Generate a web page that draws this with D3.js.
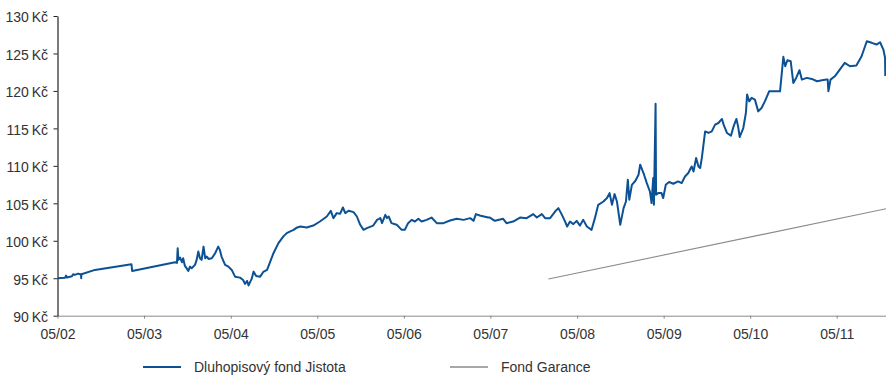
<!DOCTYPE html>
<html>
<head>
<meta charset="utf-8">
<script src="https://cdn.jsdelivr.net/npm/d3@7"></script>
<style>
  body { margin: 0; background: #fff; }
  text { font-family: "Liberation Sans", Arial, sans-serif; fill: #333; }
</style>
</head>
<body>
<div id="chart"></div>
<script>
// Dluhopisový fond Jistota
const jistotaDates = [
  "2002-05-01","2002-06-02","2002-06-06","2002-06-10","2002-07-01","2002-07-06","2002-07-13","2002-07-27","2002-08-04","2002-08-08",
  "2002-08-09","2002-08-10","2002-10-06","2003-03-09","2003-03-12","2003-09-09","2003-09-17","2003-09-20","2003-09-23","2003-09-30",
  "2003-10-08","2003-10-13","2003-10-20","2003-11-04","2003-11-11","2003-11-18","2003-12-02","2003-12-09","2003-12-16","2003-12-23",
  "2003-12-30","2004-01-07","2004-01-14","2004-01-21","2004-01-28","2004-02-11","2004-02-25","2004-03-09","2004-03-16","2004-03-23",
  "2004-04-07","2004-04-21","2004-05-05","2004-05-19","2004-06-09","2004-06-22","2004-06-30","2004-07-09","2004-07-15","2004-07-28",
  "2004-08-05","2004-08-16","2004-09-02","2004-09-15","2004-10-01","2004-10-14","2004-10-28","2004-11-18","2004-12-09","2004-12-23",
  "2005-01-07","2005-01-21","2005-02-02","2005-02-19","2005-03-17","2005-04-14","2005-05-12","2005-06-10","2005-06-27","2005-07-08",
  "2005-07-22","2005-08-05","2005-08-17","2005-08-27","2005-09-10","2005-10-01","2005-10-15","2005-10-29","2005-11-12","2005-11-26",
  "2005-12-23","2006-01-08","2006-01-22","2006-01-29","2006-02-12","2006-02-19","2006-02-26","2006-03-10","2006-04-01","2006-04-22",
  "2006-05-05","2006-05-19","2006-06-03","2006-06-17","2006-07-01","2006-07-15","2006-08-05","2006-08-26","2006-09-17","2006-10-15",
  "2006-11-12","2006-12-10","2007-01-08","2007-02-05","2007-02-19","2007-03-01","2007-03-17","2007-04-22","2007-04-29","2007-05-20",
  "2007-06-24","2007-07-08","2007-08-05","2007-09-03","2007-10-01","2007-10-29","2007-11-13","2007-12-04","2007-12-18","2008-01-08",
  "2008-01-29","2008-02-12","2008-02-27","2008-03-10","2008-03-20","2008-04-01","2008-04-15","2008-04-29","2008-05-13","2008-05-27",
  "2008-06-11","2008-07-01","2008-07-15","2008-07-29","2008-08-20","2008-09-04","2008-09-15","2008-09-25","2008-10-06","2008-10-16",
  "2008-10-30","2008-11-13","2008-11-23","2008-12-01","2008-12-07","2008-12-18","2009-01-02","2009-01-15","2009-01-22","2009-02-05",
  "2009-02-19","2009-03-04","2009-03-11","2009-03-18","2009-03-21","2009-03-28","2009-03-30","2009-04-08","2009-04-22","2009-04-29",
  "2009-05-10","2009-05-24","2009-06-11","2009-07-01","2009-07-16","2009-07-30","2009-08-13","2009-08-27","2009-09-04","2009-09-15",
  "2009-09-25","2009-10-02","2009-10-09","2009-10-23","2009-11-06","2009-11-20","2009-12-04","2009-12-18","2010-01-02","2010-01-09",
  "2010-01-23","2010-02-09","2010-02-20","2010-03-04","2010-03-11","2010-03-18","2010-04-02","2010-04-13","2010-04-18","2010-04-27",
  "2010-05-07","2010-05-21","2010-06-04","2010-06-18","2010-07-02","2010-07-20","2010-09-04","2010-09-18","2010-09-26","2010-10-05",
  "2010-10-19","2010-10-30","2010-11-11","2010-11-25","2010-12-05","2010-12-26","2011-01-16","2011-02-07","2011-02-28","2011-03-19",
  "2011-03-24","2011-03-27","2011-04-05","2011-04-23","2011-05-14","2011-06-04","2011-06-26","2011-07-23","2011-08-14","2011-09-05",
  "2011-09-26","2011-10-16","2011-10-31","2011-11-14","2011-11-21","2011-11-22"
];
const jistotaValues = [
  95.0,95.08,95.35,95.1,95.27,95.53,95.44,95.62,95.54,95.54,
  95.0,95.54,96.11,96.87,95.98,97.14,97.05,99.01,97.45,97.75,
  97.14,97.67,96.69,95.98,96.55,96.34,96.78,97.45,98.56,97.67,
  97.45,99.22,97.67,97.89,97.58,97.67,98.34,99.22,98.78,97.89,
  96.78,96.55,96.11,95.21,95.08,94.77,94.24,94.64,94.04,94.91,
  95.88,95.31,95.21,95.84,96.11,97.18,98.34,99.68,100.59,101.02,
  101.26,101.46,101.73,101.9,101.77,102.03,102.57,103.24,104.0,103.02,
  103.69,103.6,104.44,103.69,104.0,103.82,103.24,102.13,101.46,101.69,
  102.03,102.79,103.02,102.35,103.46,103.02,103.24,102.35,102.13,101.46,
  101.46,102.35,102.79,102.57,102.93,102.57,102.79,103.1,102.35,102.35,
  102.7,102.93,102.79,103.02,102.66,103.56,103.37,103.1,103.1,102.66,
  102.93,102.35,102.57,103.1,103.02,103.56,103.1,103.56,103.02,103.02,
  103.9,104.36,103.46,102.66,101.9,102.57,102.22,102.66,102.03,102.79,
  101.9,101.46,103.02,104.8,105.24,105.7,106.36,104.8,106.23,105.24,
  102.13,104.36,105.24,108.14,105.47,107.47,108.01,108.81,110.15,109.04,
  107.7,106.58,105.03,108.37,104.8,118.3,106.14,106.36,106.36,105.7,
  107.47,107.84,107.61,107.92,107.7,108.58,109.04,109.92,109.25,111.04,
  109.92,109.71,111.04,114.6,114.39,114.6,115.5,115.72,116.26,115.5,
  114.39,114.03,115.27,116.26,115.27,113.85,115.05,117.06,119.51,118.61,
  119.07,118.84,117.27,117.73,118.61,119.95,119.95,124.55,123.29,124.09,
  123.96,121.07,121.74,122.76,121.51,121.74,121.6,121.29,121.42,121.51,
  121.51,119.95,121.51,121.95,122.85,123.74,123.29,123.38,124.63,126.63,
  126.42,126.19,126.5,125.52,124.41,122.0
];

// Fond Garance
const garanceDates = ["2008-01-01", "2011-11-30"];
const garanceValues = [94.9, 104.3];

// axes
const xTickDates = ["2002-05-01","2003-05-01","2004-05-01","2005-05-01","2006-05-01","2007-05-01","2008-05-01","2009-05-01","2010-05-01","2011-05-01"];
const yTickValues = [90, 95, 100, 105, 110, 115, 120, 125, 130];

const seriesNames = ["Dluhopisový fond Jistota", "Fond Garance"];
const seriesColors = ["#0d5195", "#8a8a8a"];

// ----------------------------------------------------------

const width = 886;
const height = 376;
const margin = { top: 16, right: 0, left: 57.5, bottom: 60.3 };

const parse = d3.timeParse("%Y-%m-%d");

const svg = d3.select("div#chart").append("svg")
    .attr("width", width).attr("height", height)

svg.append("clipPath").attr("id", "plotClip")
    .append("rect").attr("x", margin.left).attr("y", 0)
    .attr("width", width - margin.left).attr("height", height - margin.bottom)

// escalas
const x = d3.scaleTime()
    .domain([parse("2002-05-01"), parse("2011-11-25")])
    .range([margin.left, width - margin.right])
const y = d3.scaleLinear()
    .domain([90, 130])
    .range([height - margin.bottom, margin.top])

// ejes
const xAxis = d3.axisBottom(x)
    .tickValues(xTickDates.map(parse))
    .tickFormat(d3.timeFormat("%m/%y"))
    .tickSize(3).tickSizeOuter(0).tickPadding(10)
const yAxis = d3.axisLeft(y)
    .tickValues(yTickValues)
    .tickFormat(d => d + "\u2009Kč")
    .tickSize(4).tickSizeOuter(0).tickPadding(5.5)

const xAxisGroup = svg.append("g").attr("class", "xAxisGroup")
    .attr("transform", `translate(0, ${height - margin.bottom})`)
    .call(xAxis)
xAxisGroup.select(".domain").attr("stroke", "#8a8a8a")
xAxisGroup.selectAll(".tick line").attr("stroke", "#8a8a8a")
xAxisGroup.selectAll("text").attr("font-size", 14).attr("fill", "#333")

const yAxisGroup = svg.append("g").attr("class", "yAxisGroup")
    .attr("transform", `translate(${margin.left}, 0)`)
    .call(yAxis)
yAxisGroup.select(".domain").attr("stroke", "#222").attr("stroke-width", 1.2)
yAxisGroup.selectAll(".tick line").attr("stroke", "#222")
yAxisGroup.selectAll("text").attr("font-size", 14).attr("fill", "#333").attr("dy", "0.42em")

// datos
const jistota = jistotaDates.map((d, i) => ({ date: parse(d), value: jistotaValues[i] }))
const garance = garanceDates.map((d, i) => ({ date: parse(d), value: garanceValues[i] }))

const line = d3.line().x(d => x(d.date)).y(d => y(d.value))

const plot = svg.append("g").attr("clip-path", "url(#plotClip)")

plot.append("path")
    .datum(garance)
    .attr("fill", "none")
    .attr("stroke", seriesColors[1])
    .attr("stroke-width", 1.1)
    .attr("d", line)

plot.append("path")
    .datum(jistota)
    .attr("fill", "none")
    .attr("stroke", seriesColors[0])
    .attr("stroke-width", 2)
    .attr("stroke-linejoin", "round")
    .attr("d", line)

// leyenda
const legendX = [143, 450];
const legend = svg.append("g").attr("class", "legend")
seriesNames.forEach((name, i) => {
    const g = legend.append("g").attr("transform", `translate(${legendX[i]}, 367)`)
    g.append("line").attr("x1", 0).attr("x2", 38).attr("y1", 0).attr("y2", 0)
        .attr("stroke", seriesColors[i]).attr("stroke-width", i === 0 ? 2.2 : 1.4)
    g.append("text").attr("x", 51).attr("y", 5).attr("font-size", 14).text(name)
})
</script>
</body>
</html>
